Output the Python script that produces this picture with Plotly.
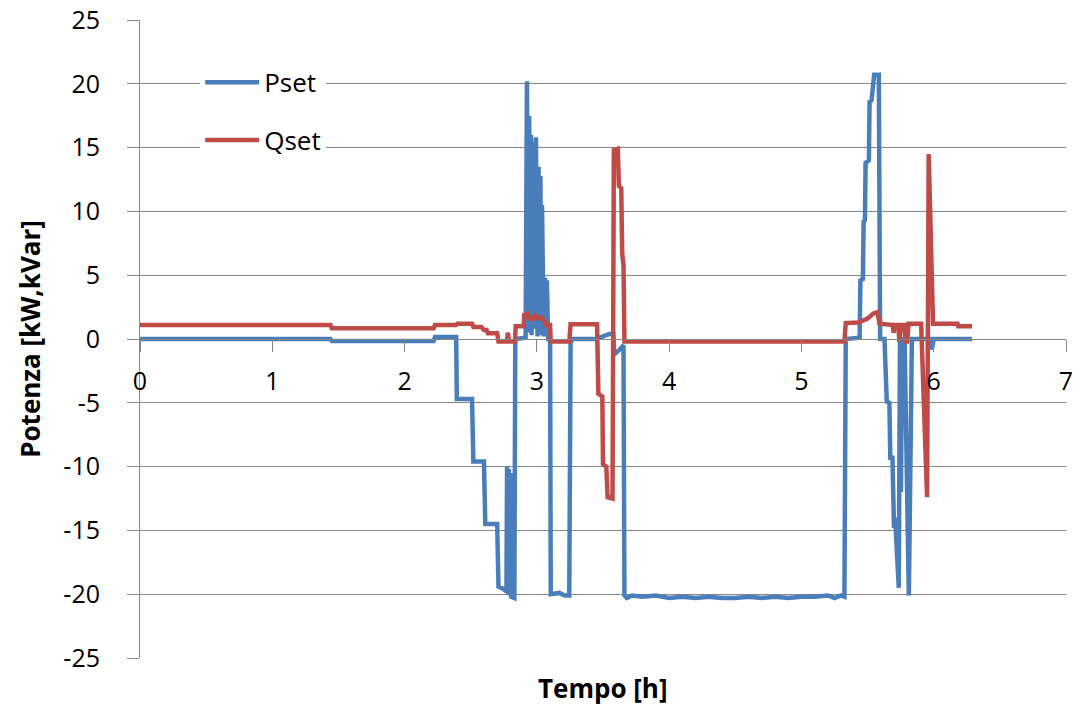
import plotly.graph_objects as go

# Active power setpoint (kW) over time (h)
p_time = [0.00, 1.44, 1.45, 2.22, 2.23, 2.39, 2.395, 2.51, 2.52, 2.60, 2.61, 2.70, 2.71,
          2.75, 2.77, 2.775, 2.782, 2.788, 2.795, 2.80, 2.807, 2.83, 2.837, 2.915, 2.925,
          2.935, 2.942, 2.948, 2.955, 2.960, 2.970, 2.977, 2.993, 3.005, 3.013, 3.019,
          3.027, 3.032, 3.039, 3.051, 3.062, 3.068, 3.076, 3.085, 3.100, 3.105, 3.17,
          3.21, 3.245, 3.255, 3.27, 3.45, 3.50, 3.55, 3.578, 3.585, 3.62, 3.655, 3.662,
          3.68, 3.72, 3.80, 3.90, 4.00, 4.10, 4.20, 4.30, 4.40, 4.50, 4.60, 4.70, 4.80,
          4.90, 5.00, 5.10, 5.20, 5.25, 5.30, 5.325, 5.335, 5.44, 5.446, 5.465, 5.47,
          5.48, 5.485, 5.51, 5.515, 5.53, 5.54, 5.55, 5.585, 5.595, 5.628, 5.645, 5.665,
          5.672, 5.688, 5.70, 5.708, 5.736, 5.745, 5.752, 5.762, 5.78, 5.812, 5.822,
          5.835, 5.975, 5.98, 5.99, 6.00, 6.29]
p_kw = [0.0, 0.0, -0.15, -0.15, 0.15, 0.15, -4.7, -4.7, -9.6, -9.6, -14.5, -14.5, -19.4,
        -19.6, -19.8, -10.0, -20.0, -10.2, -20.1, -10.5, -20.2, -20.3, 0.0, 0.1, 20.2,
        1.0, 17.5, 0.5, 16.0, 0.3, 15.5, 0.8, 15.8, 0.2, 13.5, 0.5,
        12.8, 0.3, 10.5, 0.2, 4.8, 0.3, 4.6, 0.0, 0.0, -20.0, -19.9,
        -20.1, -20.1, -0.3, 0.0, 0.0, 0.2, 0.4, 0.4, -1.2, -0.9, -0.5, -20.1,
        -20.3, -20.1, -20.2, -20.1, -20.3, -20.2, -20.3, -20.2, -20.3, -20.3, -20.2, -20.3, -20.2,
        -20.3, -20.2, -20.2, -20.1, -20.3, -20.1, -20.2, 0.0, 0.1, 4.6, 4.7, 9.2,
        9.3, 13.8, 14.0, 18.6, 18.7, 20.1, 20.7, 20.7, 0.0, 0.0, -4.9, -5.0,
        -9.3, -9.3, -14.8, -14.0, -19.5, 0.0, -12.0, 0.0, 0.0, -20.1, -8.0,
        0.0, 0.0, -0.8, -0.6, 0.0, 0.0]

# Reactive power setpoint (kVar) over time (h)
q_time = [0.00, 1.44, 1.45, 2.22, 2.23, 2.39, 2.40, 2.51, 2.52, 2.58, 2.60, 2.62, 2.63,
          2.70, 2.71, 2.775, 2.78, 2.79, 2.835, 2.84, 2.90, 2.905, 2.93, 2.945, 2.96,
          2.975, 2.99, 3.01, 3.03, 3.06, 3.07, 3.10, 3.105, 3.245, 3.255, 3.455, 3.465,
          3.495, 3.50, 3.525, 3.535, 3.572, 3.582, 3.612, 3.62, 3.638, 3.645, 3.655,
          3.662, 5.325, 5.335, 5.43, 5.50, 5.545, 5.575, 5.59, 5.69, 5.697, 5.705, 5.733,
          5.74, 5.752, 5.78, 5.787, 5.80, 5.81, 5.905, 5.944, 5.950, 5.962, 5.972, 5.985,
          5.995, 6.18, 6.185, 6.29]
q_kvar = [1.1, 1.1, 0.85, 0.85, 1.1, 1.1, 1.2, 1.2, 0.95, 0.95, 0.7, 0.7, 0.45,
          0.45, -0.2, -0.2, 0.5, -0.2, -0.2, 1.0, 1.0, 1.9, 2.0, 1.5, 1.8,
          1.5, 1.8, 1.6, 1.7, 1.4, 1.1, 1.1, -0.2, -0.2, 1.15, 1.15, -4.3,
          -4.5, -9.8, -10.0, -12.4, -12.5, 14.8, 14.9, 12.0, 11.8, 6.7, 5.8,
          -0.2, -0.2, 1.25, 1.3, 1.6, 2.0, 2.1, 1.2, 1.1, 0.5, 1.1, 1.1,
          -0.2, 1.1, 1.1, -0.2, -0.2, 1.2, 1.2, -12.4, -12.4, 14.5, 11.0, 7.3,
          1.2, 1.2, 1.0, 1.0]

x_ticks = [0, 1, 2, 3, 4, 5, 6, 7]
y_ticks = [-25, -20, -15, -10, -5, 0, 5, 10, 15, 20, 25]

BLUE = "#4A7EBB"
RED = "#BE4B48"
GRID = "#868686"
FONT = "Open Sans"

fig = go.Figure()
fig.add_trace(go.Scatter(x=p_time, y=p_kw, mode="lines", name="Pset",
                         legendgroup="p",
                         line=dict(color=BLUE, width=4.5)))
fig.add_trace(go.Scatter(x=q_time, y=q_kvar, mode="lines", name="Qset",
                         legendgroup="q",
                         line=dict(color=RED, width=4.5)))

fig.update_layout(
    width=1080, height=708,
    margin=dict(l=140, r=14, t=20, b=50),
    paper_bgcolor="white", plot_bgcolor="white",
    font=dict(family=FONT, color="black", size=25),
    showlegend=True,
    legend=dict(x=0.065, y=0.939, xanchor="left", yanchor="top",
                bgcolor="white", borderwidth=0, itemwidth=54,
                entrywidth=115, entrywidthmode="pixels",
                font=dict(family=FONT, size=26, color="black"),
                tracegroupgap=21, traceorder="grouped"),
    xaxis=dict(range=[0, 7], tickvals=x_ticks, ticktext=[str(v) for v in x_ticks],
               showgrid=False, zeroline=False, automargin=False,
               showline=True, linecolor=GRID, linewidth=1,
               anchor="free", position=0.5,
               ticks="outside", ticklen=12, tickcolor=GRID, tickwidth=1,
               ticklabelstandoff=8,
               tickfont=dict(family=FONT, size=25, color="black")),
    yaxis=dict(range=[-25, 25], tickvals=y_ticks, ticktext=[str(v) for v in y_ticks],
               showgrid=True, gridcolor=GRID, gridwidth=1,
               zeroline=False, automargin=False,
               showline=True, linecolor=GRID, linewidth=1,
               ticks="outside", ticklen=12, tickcolor=GRID, tickwidth=1,
               ticklabelstandoff=22,
               tickfont=dict(family=FONT, size=25, color="black")),
    annotations=[
        dict(text="<b>Tempo [h]</b>", xref="paper", yref="paper",
             x=0.5, y=-0.047, xanchor="center", yanchor="middle",
             showarrow=False,
             font=dict(family=FONT, size=26, color="black")),
        dict(text="<b>Potenza [kW,kVar]</b>", xref="paper", yref="paper",
             x=-0.119, y=0.5, xanchor="center", yanchor="middle",
             textangle=-90, showarrow=False,
             font=dict(family=FONT, size=26, color="black")),
    ],
)

fig.write_html("out.html")
